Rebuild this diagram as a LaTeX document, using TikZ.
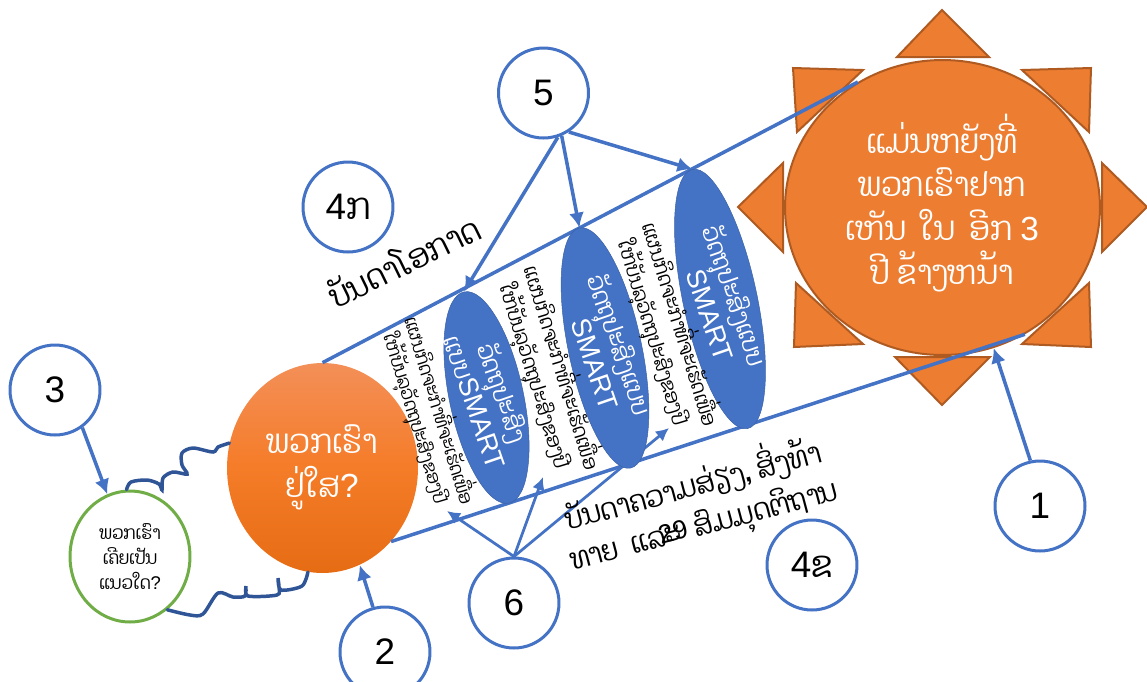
\documentclass[tikz,border=0pt]{standalone}
\usepackage{fontspec}
\setmainfont{Liberation Sans}
\newfontfamily\laofont[Script=Lao,FakeStretch=0.9]{Dhyana}
\usetikzlibrary{shapes.geometric,arrows.meta}
\definecolor{refblue}{HTML}{4472C4}
\definecolor{refdark}{HTML}{2F5597}
\definecolor{refsun}{HTML}{ED7D31}
\definecolor{refedge}{HTML}{AE5A21}
\definecolor{refgreen}{HTML}{70AD47}
\definecolor{reftop}{HTML}{F38F58}
\definecolor{refmid}{HTML}{F57C28}
\definecolor{refbot}{HTML}{E66C14}
\newcommand{\smartword}{{\rmfamily\fontsize{15.5}{15.5}\selectfont SMART}}
\tikzset{
	numcircle/.style={circle, draw=refblue, line width=0.6mm, fill=white, minimum size=18mm, inner sep=0pt, font=\fontsize{21}{21}\selectfont},
	ray/.style={draw=refedge, fill=refsun, line width=0.4mm, line join=miter},
	bigtext/.style={align=center, text=white, font=\laofont\fontsize{19}{25}\selectfont},
	goalshape/.style={ellipse, draw=refblue!85!black, line width=0.1mm, fill=refblue, inner sep=0pt, rotate=-78},
	goaltext/.style={align=center, text=white, rotate=-71, font=\laofont\fontsize{14.4}{17}\selectfont},
	plantext/.style={align=center, rotate=-73, font=\laofont\fontsize{11.6}{16}\selectfont},
	midline/.style={line width=0.7mm, color=refblue},
	pointer/.style={line width=0.7mm, color=refblue, -{Latex[length=3mm,width=3mm]}},
	thinpointer/.style={line width=0.55mm, color=refblue, -{Latex[length=2.6mm,width=2.6mm]}},
	wiggle/.style={line width=0.7mm, color=refdark, line cap=round}
}

\begin{document}
\begin{tikzpicture}[x=0.02cm, y=-0.02cm]
	\useasboundingbox (0, 0) rectangle (1147, 681);

	%%%%% SUN %%%%%
	\draw[ray] (942, 10) -- (897, 57) -- (989, 57) -- cycle;
	\draw[ray] (793, 68) -- (863, 70) -- (797, 132) -- cycle;
	\draw[ray] (1091, 68) -- (1022, 70) -- (1089, 132) -- cycle;
	\draw[ray] (1102, 163) -- (1147, 207) -- (1102, 252) -- cycle;
	\draw[ray] (783, 163) -- (738, 207) -- (783, 252) -- cycle;
	\draw[ray] (895, 357) -- (990, 357) -- (942, 405) -- cycle;
	\draw[ray] (796, 283) -- (794, 347) -- (863, 344) -- cycle;
	\draw[ray] (1089, 283) -- (1091, 347) -- (1022, 344) -- cycle;
	\node[ellipse, draw=refedge, fill=refsun, line width=0.4mm, minimum width=63mm, minimum height=59mm, inner sep=0pt] (sun) at (942.5, 207.5) {};
	\node[bigtext] (suntext) at (942, 203) {ແມ່ນຫຍັງທີ່\\ພວກເຮົາຢາກ\\ເຫັນ\ \ ໃນ\ \ ອີກ\ {\rmfamily 3}\\ປີ ຂ້າງຫນ້າ};

	%%%%% NOW AND PAST %%%%%
	\node[ellipse, top color=reftop, bottom color=refbot, middle color=refmid, minimum width=38.2mm, minimum height=42mm, inner sep=0pt] (now) at (322.5, 468) {};
	\node[bigtext] (nowtext) at (322, 467) {ພວກເຮົາ\\ຢູ່ໃສ{\rmfamily ?}};
	\node[ellipse, draw=refgreen, fill=white, line width=0.6mm, minimum width=24mm, minimum height=26.2mm, inner sep=0pt, align=center, font=\laofont\fontsize{10.5}{14.5}\selectfont] (past) at (130, 556.5) {ພວກເຮົາ\\ເຄີຍເປັນ\\ແນວໃດ{\rmfamily ?}};

	\draw[wiggle] plot[smooth, tension=0.5] coordinates {(past.93) (131, 482) (147, 480) (159, 484) (162, 490) (163, 478) (173, 472) (187, 474) (182, 465) (182, 453) (193, 448) (213, 452) (218, 447) (now.165)};
	\draw[wiggle] plot[smooth, tension=0.5] coordinates {(past.-55) (190, 615) (203, 614) (218, 593) (233, 597) (245, 596) (246, 586) (248, 596) (277, 595) (279, 587) (278, 578) (281, 590) (302, 586) (now.-98)};

	%%%%% LINES %%%%%
	\draw[midline] (now.90) -- (sun.124.9);
	\draw[midline] (now.-47.6) -- (sun.-57.5);

	\coordinate (tipa) at (447, 511);
	\coordinate (tipb) at (543, 477);
	\coordinate (tipc) at (669, 428);
	\node[numcircle] (six) at (514, 603) {6};
	\draw[thinpointer] (six.90) -- (tipa);
	\draw[thinpointer] (six.90) -- (tipb);
	\draw[thinpointer] (six.90) -- (tipc);

	%%%%% GOALS %%%%%
	\node[goalshape, minimum width=43.2mm, minimum height=14.8mm] (goala) at (486.5, 397.5) {};
	\node[goalshape, minimum width=49.1mm, minimum height=14.6mm] (goalb) at (605, 348) {};
	\node[goalshape, minimum width=53mm, minimum height=14.8mm] (goalc) at (720, 299) {};
	\node[goaltext] (goalatext) at (490, 397) {ວັດຖຸປະສົງ\\ແບບ\smartword};
	\node[goaltext] (goalbtext) at (607, 349) {ວັດຖຸປະສົງແບບ\\\hspace*{12pt}\smartword};
	\node[goaltext] (goalctext) at (722, 300) {ວັດຖຸປະສົງແບບ\\\hspace*{12pt}\smartword};

	\node[plantext, font=\laofont\fontsize{10.7}{14}\selectfont] (plana) at (428, 414) {ແຜນກິດຈະກຳທີ່ຈະເຮັດເພື່ອ\\ໃຫ້ບັນລຸວັດຖຸປະສົງຂອງປີ};
	\node[plantext] (planb) at (548.7, 371.7) {ແຜນກິດຈະກຳທີ່ຈະເຮັດເພື່ອ\\ໃຫ້ບັນລຸວັດຖຸປະສົງຂອງປີ};
	\node[plantext] (planc) at (667, 328) {ແຜນກິດຈະກຳທີ່ຈະເຮັດເພື່ອ\\ໃຫ້ບັນລຸວັດຖຸປະສົງຂອງປີ};

	%%%%% NUMBERS %%%%%
	\node[numcircle] (one) at (1040, 506) {1};
	\node[numcircle] (two) at (385, 652) {2};
	\node[numcircle] (three) at (55, 390) {3};
	\node[numcircle] (chance) at (348, 207) {4{\laofont ກ}};
	\node[numcircle] (risk) at (812, 565) {4{\laofont ຂ}};
	\node[numcircle] (five) at (543.5, 93) {5};

	\draw[pointer] (one.102) -- (sun.-70.5);
	\draw[pointer] (two.105) -- (now.-69.3);
	\draw[pointer] (three.-54) -- (past.110);
	\draw[pointer] (five.-72) -- (goala.west);
	\draw[pointer] (five.-67) -- (goalb.west);
	\draw[pointer] (five.-57) -- (goalc.west);

	%%%%% TEXT %%%%%
	\node[rotate=26, font=\laofont\fontsize{19}{19}\selectfont] (chancetext) at (403, 260) {ບັນດາໂອກາດ};
	\node[rotate=15, align=center, font=\laofont\fontsize{16.8}{23}\selectfont] (risktext) at (698, 504) {ບັນດາຄວາມສ່ຽງ, ສິ່ງທ້າ\\ທາຍ\ \ ແລະ\ \ ສົມມຸດຕິຖານ};
	\node[rotate=15, font=\fontsize{15}{15}\selectfont] (riskmark) at (673, 532) {29};
\end{tikzpicture}
\end{document}
